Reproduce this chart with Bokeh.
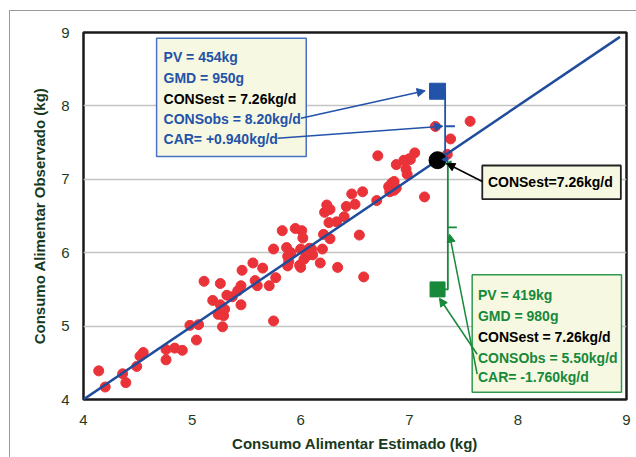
from bokeh.plotting import figure
from bokeh.models import Range1d, Label, Arrow, NormalHead, BoxAnnotation, FixedTicker
from bokeh.embed import file_html
from bokeh.resources import INLINE

# ---------------- data ----------------
cons_est = [4.14, 4.20, 4.36, 4.39, 4.49, 4.52, 4.55, 4.76, 4.76, 4.84, 4.91, 4.98, 5.04, 5.06,
            5.11, 5.19, 5.24, 5.26, 5.26, 5.29, 5.28, 5.30, 5.32, 5.37, 5.42, 5.45, 5.45, 5.46,
            5.56, 5.58, 5.60, 5.65, 5.71, 5.75, 5.77, 5.75, 5.83, 5.87, 5.88, 5.91, 5.95, 5.99,
            6.00, 6.00, 6.01, 6.02, 6.05, 6.10, 6.18, 6.20, 6.21, 6.22, 6.24, 6.26, 6.27, 6.27,
            6.34, 6.33, 6.40, 6.42, 6.47, 6.50, 6.54, 6.57, 6.58, 6.70, 6.71, 6.81, 6.84, 6.86,
            6.88, 6.88, 6.95, 6.97, 6.98, 7.01, 7.05, 7.14, 7.24, 7.35, 7.38, 7.56,
            5.88, 6.03, 6.11, 5.89, 6.08, 7.00, 6.86, 6.82]
cons_obs = [4.39, 4.17, 4.35, 4.23, 4.45, 4.59, 4.64, 4.68, 4.54, 4.70, 4.67, 5.01, 4.81, 5.02,
            5.61, 5.35, 5.16, 5.58, 5.29, 5.14, 4.99, 5.23, 5.42, 5.40, 5.48, 5.55, 5.29, 5.76,
            5.86, 5.62, 5.55, 5.79, 5.55, 6.05, 5.66, 5.07, 6.30, 6.07, 5.82, 6.00, 6.33, 5.83,
            6.05, 5.80, 6.30, 6.20, 5.95, 6.05, 5.86, 6.05, 6.25, 6.55, 6.65, 6.41, 6.19, 6.59,
            5.80, 6.42, 6.49, 6.63, 6.80, 6.66, 6.24, 6.83, 5.67, 6.71, 7.32, 6.90, 6.95, 6.85,
            7.20, 6.88, 7.26, 7.14, 7.07, 7.27, 7.36, 6.76, 7.72, 7.34, 7.55, 7.79,
            5.95, 5.91, 5.97, 5.88, 6.06, 7.28, 6.97, 6.83]

identity_x = [4.0, 8.94]
identity_y = [4.0, 8.94]

cons_est_ref = 7.26
obs_high = 8.20
obs_low = 5.50

box_high = ["PV = 454kg", "GMD = 950g", "CONSest = 7.26kg/d", "CONSobs = 8.20kg/d", "CAR= +0.940kg/d"]
box_low = ["PV = 419kg", "GMD = 980g", "CONSest = 7.26kg/d", "CONSObs = 5.50kg/d", "CAR= -1.760kg/d"]
center_label = "CONSest=7.26kg/d"

ticks = [4, 5, 6, 7, 8, 9]

# ---------------- styles ----------------
BLUE = "#2353a8"
LINE_BLUE = "#1f4c9c"
GREEN = "#17893a"
RED = "#ea3339"
IVORY = "#f7f8e2"
AXIS_TXT = "#173a1d"
FONT = "Liberation Sans"

p = figure(width=627, height=447, x_range=Range1d(4, 9), y_range=Range1d(4, 9),
           output_backend="svg", toolbar_location=None,
           min_border_left=73, min_border_right=11, min_border_top=21, min_border_bottom=59)
p.styles = {"margin-left": "9px", "margin-top": "10px",
            "border-top": "1px solid #9a9a9a", "border-left": "1px solid #9a9a9a"}

for ax in (p.xaxis, p.yaxis):
    ax.ticker = FixedTicker(ticks=ticks)
    ax.axis_line_color = None
    ax.major_tick_line_color = None
    ax.minor_tick_line_color = None
    ax.major_label_text_font = "Liberation Sans"
    ax.major_label_text_font_size = "15px"
    ax.major_label_text_color = "#1f3b22"
    ax.axis_label_text_font = FONT
    ax.axis_label_text_font_style = "bold"
    ax.axis_label_text_font_size = "15px"
    ax.axis_label_text_color = AXIS_TXT

p.xaxis.axis_label = "Consumo Alimentar Estimado (kg)"
p.yaxis.axis_label = "Consumo Alimentar Observado (kg)"
p.xaxis.major_label_standoff = 9
p.yaxis.major_label_standoff = 8
p.xaxis.axis_label_standoff = 7
p.yaxis.axis_label_standoff = 10

p.xgrid.visible = False
p.ygrid.grid_line_color = "#c4c4c4"
p.ygrid.grid_line_width = 1.5

p.outline_line_color = "#1a1a1a"
p.outline_line_width = 2.5
p.outline_line_alpha = 1

# points
p.scatter(cons_est, cons_obs, size=10, fill_color=RED, line_color=RED)
# 1:1 line
p.line(identity_x, identity_y, line_color=LINE_BLUE, line_width=2.5)

# brackets
xb = 7.33
xg = 7.355
p.line([7.30, xb, xb], [8.17, 8.17, 7.27], line_color=BLUE, line_width=1.8)
p.line([xb, 7.42], [7.723, 7.723], line_color=BLUE, line_width=1.8)
p.add_layout(Arrow(x_start=xb, y_start=7.27, x_end=7.30, y_end=7.27, line_color=BLUE, line_width=1.8,
                   end=NormalHead(size=6, fill_color=BLUE, line_color=BLUE)))
p.line([7.31, xg, xg], [5.50, 5.50, 7.21], line_color=GREEN, line_width=1.8)
p.line([xg, 7.438], [6.345, 6.345], line_color=GREEN, line_width=1.8)
p.add_layout(Arrow(x_start=xg, y_start=7.21, x_end=7.33, y_end=7.21, line_color=GREEN, line_width=1.8,
                   end=NormalHead(size=6, fill_color=GREEN, line_color=GREEN)))

# highlighted animals
p.scatter([cons_est_ref], [obs_high], marker="square", size=16, fill_color=BLUE, line_color=BLUE)
p.scatter([cons_est_ref], [obs_low], marker="square", size=15, fill_color=GREEN, line_color=GREEN)
p.scatter([cons_est_ref], [cons_est_ref], size=17, fill_color="black", line_color="black")

# boxes
p.add_layout(BoxAnnotation(left=4.673, right=6.051, top=8.922, bottom=7.311, fill_color=IVORY,
                           fill_alpha=1, line_color="#4a72c4", line_width=1.5, line_alpha=1))
p.add_layout(BoxAnnotation(left=7.579, right=8.954, top=5.699, bottom=4.099, fill_color=IVORY,
                           fill_alpha=1, line_color="#2f9a4e", line_width=1.5, line_alpha=1))
p.add_layout(BoxAnnotation(left=7.672, right=8.948, top=7.188, bottom=6.729, fill_color=IVORY,
                           fill_alpha=1, line_color="#222222", line_width=1.8, line_alpha=1))

hi_y = [8.662, 8.377, 8.092, 7.820, 7.548]
lo_y = [5.426, 5.131, 4.858, 4.572, 4.300]
for i, t in enumerate(box_high):
    p.add_layout(Label(x=4.737, y=hi_y[i], text=t, text_font=FONT, text_font_size="14px",
                       text_font_style="bold", text_color="black" if i == 2 else BLUE,
                       text_baseline="middle", text_align="left"))
for i, t in enumerate(box_low):
    p.add_layout(Label(x=7.632, y=lo_y[i], text=t, text_font=FONT, text_font_size="14px",
                       text_font_style="bold", text_color="black" if i == 2 else GREEN,
                       text_baseline="middle", text_align="left"))
p.add_layout(Label(x=7.724, y=6.962, text=center_label, text_font=FONT, text_font_size="14px",
                   text_font_style="bold", text_color="black", text_baseline="middle", text_align="left"))

# arrows
def arrow(x0, y0, x1, y1, c):
    p.add_layout(Arrow(x_start=x0, y_start=y0, x_end=x1, y_end=y1, line_color=c, line_width=1.5,
                       end=NormalHead(size=8, fill_color=c, line_color=c)))

arrow(6.002, 7.832, 7.146, 8.206, BLUE)
arrow(5.787, 7.560, 7.309, 7.723, BLUE)
arrow(7.672, 6.970, 7.345, 7.215, "black")
arrow(7.625, 4.617, 7.278, 5.380, GREEN)
arrow(7.625, 4.345, 7.370, 6.252, GREEN)

open("out.html", "w").write(file_html(p, INLINE))
